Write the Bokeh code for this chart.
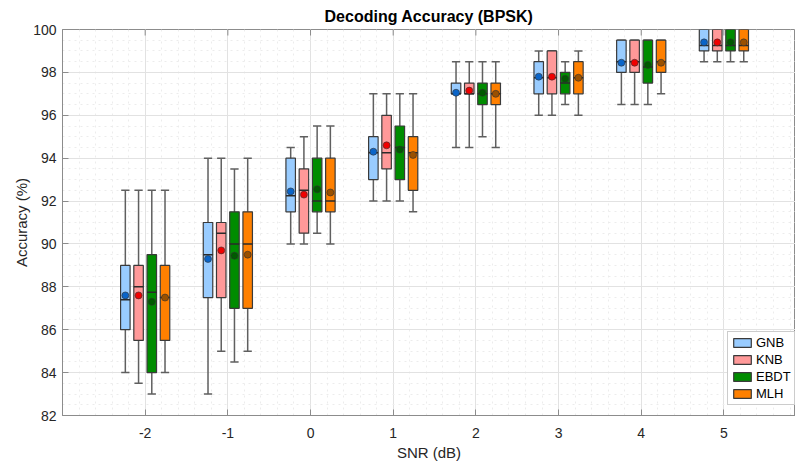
import numpy as np
from bokeh.plotting import figure
from bokeh.models import FixedTicker, Legend, LegendItem, Range1d
from bokeh.embed import file_html
from bokeh.resources import INLINE

# SNR levels (dB) and classifiers
snr = [-2, -1, 0, 1, 2, 3, 4, 5]
classifiers = ["GNB", "KNB", "EBDT", "MLH"]

# Box statistics per classifier: whisker low, Q1, median, Q3, whisker high, mean
gnb_low = [84.0, 83.0, 90.0, 92.0, 94.5, 96.0, 96.5, 98.5]
gnb_q1 = [86.0, 87.5, 91.5, 93.0, 97.0, 97.0, 98.0, 99.0]
gnb_med = [87.4, 89.5, 92.25, 94.25, 97.0, 97.75, 98.5, 99.25]
gnb_q3 = [89.0, 91.0, 94.0, 95.0, 97.5, 98.5, 99.5, 100.0]
gnb_high = [92.5, 94.0, 94.5, 97.0, 98.5, 99.0, 99.5, 100.0]
gnb_mean = [87.6, 89.3, 92.45, 94.3, 97.05, 97.8, 98.45, 99.4]

knb_low = [83.5, 85.0, 90.0, 92.0, 94.5, 96.0, 96.5, 98.5]
knb_q1 = [85.5, 87.5, 90.5, 93.5, 97.0, 97.0, 98.0, 99.0]
knb_med = [88.0, 90.5, 92.5, 94.25, 97.0, 97.75, 98.5, 99.25]
knb_q3 = [89.0, 91.0, 93.5, 96.0, 97.5, 99.0, 99.5, 100.0]
knb_high = [92.5, 94.0, 95.0, 97.0, 98.5, 99.0, 99.5, 100.0]
knb_mean = [87.6, 89.7, 92.3, 94.6, 97.15, 97.8, 98.45, 99.4]

ebdt_low = [83.0, 84.5, 90.5, 92.0, 95.0, 96.5, 96.5, 98.5]
ebdt_q1 = [84.0, 87.0, 91.5, 93.0, 96.5, 97.0, 97.5, 99.0]
ebdt_med = [87.75, 90.0, 92.0, 94.5, 97.0, 97.5, 98.25, 99.25]
ebdt_q3 = [89.5, 91.5, 94.0, 95.5, 97.5, 98.0, 99.5, 100.0]
ebdt_high = [92.5, 93.5, 95.5, 97.0, 98.5, 98.5, 99.5, 100.0]
ebdt_mean = [87.3, 89.45, 92.55, 94.4, 97.05, 97.7, 98.35, 99.4]

mlh_low = [84.0, 85.0, 90.0, 91.5, 94.5, 96.0, 97.0, 98.5]
mlh_q1 = [85.5, 87.0, 91.5, 92.5, 96.5, 97.0, 98.0, 99.0]
mlh_med = [87.5, 90.0, 92.0, 94.25, 97.0, 97.75, 98.5, 99.25]
mlh_q3 = [89.0, 91.5, 94.0, 95.0, 97.5, 98.5, 99.5, 100.0]
mlh_high = [92.5, 94.0, 95.5, 97.0, 98.5, 99.0, 99.5, 100.0]
mlh_mean = [87.5, 89.5, 92.4, 94.15, 97.0, 97.75, 98.45, 99.4]

y_ticks = [82, 84, 86, 88, 90, 92, 94, 96, 98, 100]
x_tick_labels = ["-2", "-1", "0", "1", "2", "3", "4", "5"]

stats = {
    "GNB": (gnb_low, gnb_q1, gnb_med, gnb_q3, gnb_high, gnb_mean),
    "KNB": (knb_low, knb_q1, knb_med, knb_q3, knb_high, knb_mean),
    "EBDT": (ebdt_low, ebdt_q1, ebdt_med, ebdt_q3, ebdt_high, ebdt_mean),
    "MLH": (mlh_low, mlh_q1, mlh_med, mlh_q3, mlh_high, mlh_mean),
}

box_fill = {"GNB": "#99CCFF", "KNB": "#FF9999", "EBDT": "#008C00", "MLH": "#FF8000"}
mean_fill = {"GNB": "#0A64C8", "KNB": "#F00000", "EBDT": "#005A00", "MLH": "#9A5000"}
offsets = {"GNB": -0.24, "KNB": -0.08, "EBDT": 0.08, "MLH": 0.24}
box_w = 0.115
cap_w = 0.10
top_tick_len = 0.28  # inward tick length along the top edge, in y units

FONT = "Liberation Sans"
TEXT = "#262626"
AXIS = "#8c8c8c"
Y_TOP = 100

p = figure(
    width=795, height=464,
    x_range=Range1d(-3, 5.866), y_range=Range1d(82, Y_TOP),
    output_backend="svg", toolbar_location=None,
    min_border_left=62, min_border_right=0, min_border_top=29, min_border_bottom=49,
    title="Decoding Accuracy (BPSK)",
)
p.outline_line_color = AXIS
p.outline_line_width = 1
p.background_fill_color = "white"
p.border_fill_color = "white"

p.title.align = "center"
p.title.offset = 6
p.title.text_font = FONT
p.title.text_font_size = "16px"
p.title.text_font_style = "bold"
p.title.text_color = "#000000"

x_ticker = FixedTicker(ticks=snr, minor_ticks=list(np.round(np.arange(-3, 6.01, 0.2), 2)))
y_ticker = FixedTicker(ticks=y_ticks, minor_ticks=list(np.arange(82, 100.01, 0.5)))

p.xaxis.ticker = x_ticker
p.yaxis.ticker = y_ticker
p.xaxis.major_label_overrides = {t: s for t, s in zip(snr, x_tick_labels)}
p.xaxis.axis_label = "SNR (dB)"
p.yaxis.axis_label = "Accuracy (%)"

for ax in (p.xaxis[0], p.yaxis[0]):
    ax.axis_line_color = AXIS
    ax.major_tick_line_color = AXIS
    ax.major_tick_in = 6
    ax.major_tick_out = 0
    ax.minor_tick_in = 0
    ax.minor_tick_out = 0
    ax.major_label_text_font = FONT
    ax.major_label_text_font_size = "14px"
    ax.major_label_text_color = TEXT
    ax.axis_label_text_font = FONT
    ax.axis_label_text_font_size = "15px"
    ax.axis_label_text_font_style = "normal"
    ax.axis_label_text_color = TEXT
p.xaxis.major_label_standoff = 12
p.xaxis.axis_label_standoff = 3
p.yaxis.major_label_standoff = 6
p.yaxis.axis_label_standoff = 0

p.xgrid.ticker = x_ticker
p.ygrid.ticker = y_ticker
for g in (p.xgrid[0], p.ygrid[0]):
    g.grid_line_color = "#e2e2e2"
    g.grid_line_width = 1
    g.minor_grid_line_color = "#ececec"
    g.minor_grid_line_dash = "dotted"

# mirrored tick marks on the top edge of the box
x_base = np.array(snr, dtype=float)
p.segment(x0=x_base, y0=np.full(len(snr), Y_TOP), x1=x_base, y1=np.full(len(snr), Y_TOP - top_tick_len),
          line_color=AXIS, line_width=1)

items = []
for name in classifiers:
    lo, q1, med, q3, hi, mean = (np.array(a, dtype=float) for a in stats[name])
    x = x_base + offsets[name]
    # whiskers
    p.segment(x0=x, y0=lo, x1=x, y1=hi, line_color="#5f5f5f", line_width=1.5)
    p.segment(x0=x - cap_w / 2, y0=lo, x1=x + cap_w / 2, y1=lo, line_color="#5f5f5f", line_width=1.5)
    p.segment(x0=x - cap_w / 2, y0=hi, x1=x + cap_w / 2, y1=hi, line_color="#5f5f5f", line_width=1.5)
    # interquartile box
    box = p.quad(left=x - box_w / 2, right=x + box_w / 2, bottom=q1, top=q3,
                 fill_color=box_fill[name], line_color="#3a3a3a", line_width=1.2)
    # median
    p.segment(x0=x - box_w / 2, y0=med, x1=x + box_w / 2, y1=med, line_color="#2a2a2a", line_width=1.5)
    # mean marker
    p.scatter(x=x, y=mean, marker="circle", size=7, fill_color=mean_fill[name],
              line_color="#303030", line_width=0.6)
    items.append(LegendItem(label=name, renderers=[box]))

legend = Legend(items=items, location=(665, 10), margin=0, padding=3, spacing=2,
                glyph_width=22, glyph_height=11, label_height=15, label_standoff=3,
                label_text_font=FONT, label_text_font_size="13px", label_text_color="#000000",
                border_line_color="#9a9a9a", border_line_width=1,
                background_fill_color="white", background_fill_alpha=1.0)
p.add_layout(legend, "center")

open("out.html", "w").write(file_html(p, INLINE))
